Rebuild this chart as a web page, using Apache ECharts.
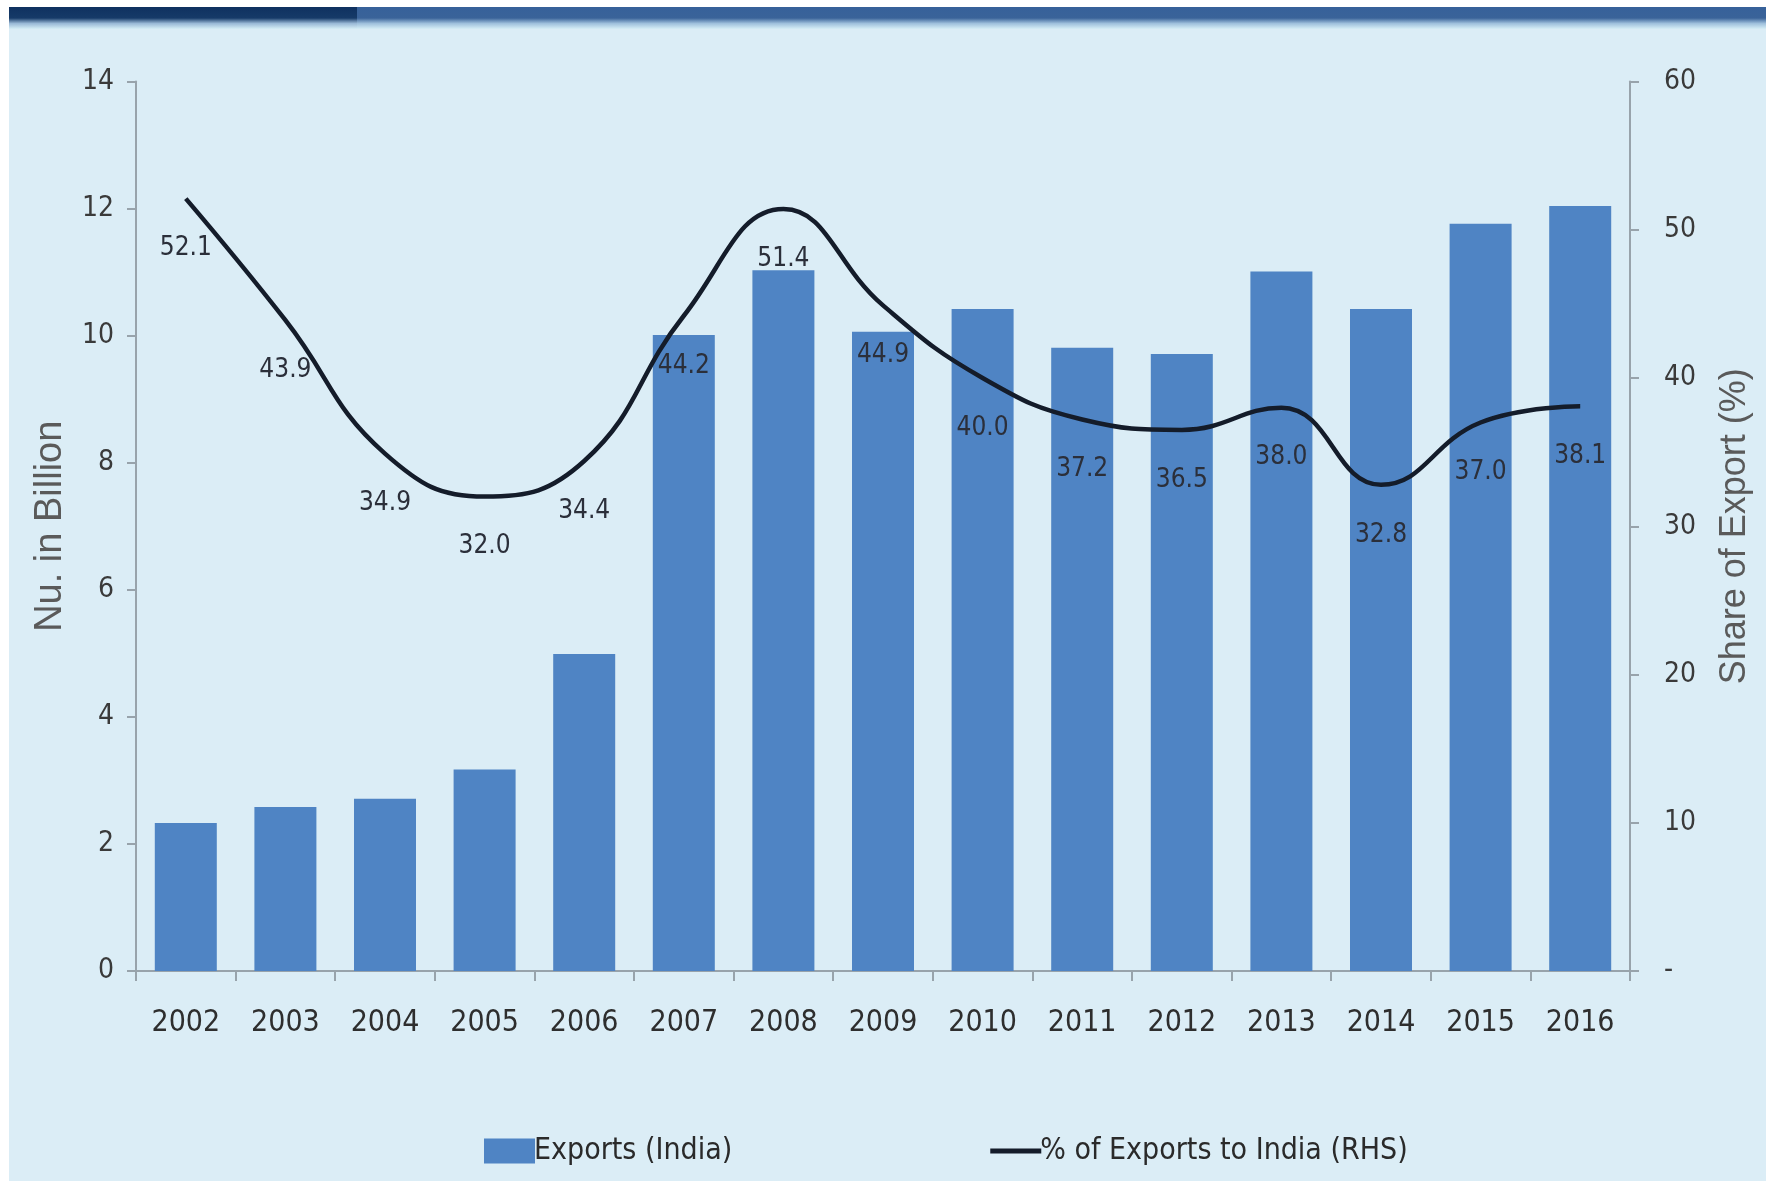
<!DOCTYPE html>
<html>
<head>
<meta charset="utf-8">
<script src="https://cdn.jsdelivr.net/npm/echarts@6/dist/echarts.min.js"></script>
<style>
html,body{margin:0;padding:0;background:#ffffff;}
#c{width:1775px;height:1185px;}
</style>
</head>
<body>
<div id="c"></div>
<script>
const years = ['2002','2003','2004','2005','2006','2007','2008','2009','2010','2011','2012','2013','2014','2015','2016'];
const exportsIndia = [2.33, 2.58, 2.71, 3.17, 4.99, 10.01, 11.03, 10.06, 10.42, 9.81, 9.71, 11.01, 10.42, 11.76, 12.04];
const shareToIndia = [52.1, 43.9, 34.9, 32.0, 34.4, 44.2, 51.4, 44.9, 40.0, 37.2, 36.5, 38.0, 32.8, 37.0, 38.1];
const leftTicks = {min: 0, max: 14, interval: 2};
const rightTicks = {min: 0, max: 60, interval: 10};

const narrow = "'Liberation Sans Narrow', 'DejaVu Sans Condensed', 'Liberation Sans', sans-serif";
const regular = "'Liberation Sans', Arial, sans-serif";
const axisGray = '#98a3ab';

const chart = echarts.init(document.getElementById('c'), null, {renderer: 'canvas'});
chart.setOption({
  backgroundColor: '#ffffff',
  animation: false,
  graphic: [
    {type: 'rect', z: -10, silent: true, shape: {x: 9, y: 7, width: 1757, height: 1174}, style: {fill: '#dbedf6'}},
    {type: 'rect', z: -9, silent: true, shape: {x: 9, y: 7, width: 1757, height: 22},
      style: {fill: {type: 'linear', x: 0, y: 0, x2: 0, y2: 1, colorStops: [
        {offset: 0, color: '#37619a'}, {offset: 0.5, color: '#3a6399'}, {offset: 0.75, color: '#9fc0dc'}, {offset: 1, color: '#d6eef6'}]}}},
    {type: 'rect', z: -8, silent: true, shape: {x: 9, y: 7, width: 348, height: 22},
      style: {fill: {type: 'linear', x: 0, y: 0, x2: 0, y2: 1, colorStops: [
        {offset: 0, color: '#0f3160'}, {offset: 0.5, color: '#163a68'}, {offset: 0.75, color: '#9ab9d6'}, {offset: 1, color: '#d6eef6'}]}}}
  ],
  grid: {left: 136, right: 145, top: 81.5, bottom: 214, containLabel: false},
  legend: {
    left: 479, top: 1131,
    itemGap: 258, itemWidth: 51, itemHeight: 25,
    textStyle: {fontFamily: narrow, fontSize: 30, color: '#2a2a2a', padding: [0, 0, 0, -6]},
    data: [
      {name: 'Exports (India)', icon: 'rect'},
      {name: '% of Exports to India (RHS)', icon: 'path://M0,0 L51,0 L51,5 L0,5 Z'}
    ]
  },
  xAxis: {
    type: 'category',
    data: years,
    boundaryGap: true,
    axisLine: {lineStyle: {color: axisGray, width: 2}},
    axisTick: {show: true, length: 10, lineStyle: {color: axisGray, width: 2}},
    axisLabel: {interval: 0, fontFamily: narrow, fontSize: 30, color: '#2e2e2e', margin: 37}
  },
  yAxis: [
    {
      type: 'value', position: 'left',
      min: leftTicks.min, max: leftTicks.max, interval: leftTicks.interval,
      name: 'Nu. in Billion', nameLocation: 'middle', nameGap: 66, nameRotate: 90,
      nameTextStyle: {fontFamily: regular, fontSize: 38, color: '#5a5a5a'},
      splitLine: {show: false},
      axisLine: {show: true, lineStyle: {color: axisGray, width: 2}},
      axisTick: {show: true, length: 9, lineStyle: {color: axisGray, width: 2}},
      axisLabel: {fontFamily: narrow, fontSize: 28, color: '#3a3a3a', margin: 22}
    },
    {
      type: 'value', position: 'right',
      min: rightTicks.min, max: rightTicks.max, interval: rightTicks.interval,
      name: 'Share of Export (%)', nameLocation: 'middle', nameGap: 87, nameRotate: 90,
      nameTextStyle: {fontFamily: regular, fontSize: 36, color: '#5a5a5a'},
      splitLine: {show: false},
      axisLine: {show: true, lineStyle: {color: axisGray, width: 2}},
      axisTick: {show: true, length: 9, lineStyle: {color: axisGray, width: 2}},
      axisLabel: {fontFamily: narrow, fontSize: 28, color: '#3a3a3a', margin: 34,
        formatter: function (v) { return v === 0 ? '-' : String(v); }}
    }
  ],
  series: [
    {
      name: 'Exports (India)',
      type: 'bar',
      yAxisIndex: 0,
      data: exportsIndia,
      barWidth: 62,
      itemStyle: {color: '#4f84c4'},
      z: 2
    },
    {
      name: '% of Exports to India (RHS)',
      type: 'line',
      yAxisIndex: 1,
      data: shareToIndia,
      smooth: 0.45,
      symbol: 'circle',
      symbolSize: 0.1,
      showSymbol: true,
      lineStyle: {color: '#141c2a', width: 4.5},
      itemStyle: {color: '#141c2a'},
      label: {
        show: true, position: 'bottom', distance: 37,
        fontFamily: narrow, fontSize: 26, color: '#2b2f3a',
        formatter: function (p) { return p.value.toFixed(1); }
      },
      labelLayout: {hideOverlap: false},
      z: 5
    }
  ]
});
</script>
</body>
</html>
